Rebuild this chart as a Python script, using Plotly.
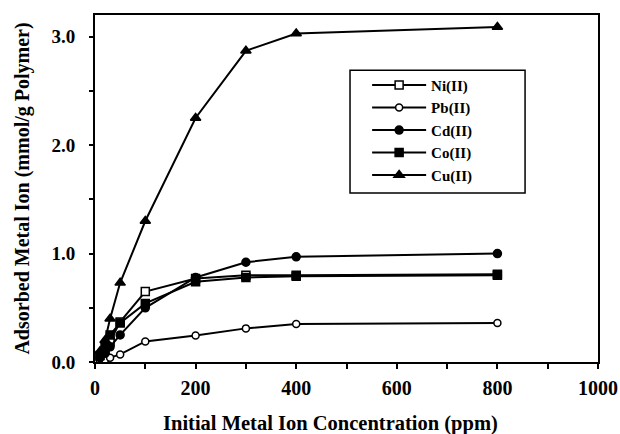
import plotly.graph_objects as go

# Initial metal ion concentration (ppm)
conc = [10, 20, 30, 50, 100, 200, 300, 400, 800]

# Adsorbed amount (mmol/g polymer) for each metal ion
ni = [0.05, 0.10, 0.19, 0.37, 0.65, 0.77, 0.80, 0.80, 0.81]
pb = [0.01, 0.02, 0.04, 0.07, 0.19, 0.245, 0.31, 0.35, 0.36]
cd = [0.04, 0.08, 0.14, 0.25, 0.50, 0.78, 0.92, 0.97, 1.00]
co = [0.06, 0.14, 0.25, 0.36, 0.54, 0.74, 0.78, 0.79, 0.80]
cu = [0.10, 0.20, 0.40, 0.73, 1.30, 2.25, 2.87, 3.03, 3.09]

names = ["Ni(II)", "Pb(II)", "Cd(II)", "Co(II)", "Cu(II)"]
series = [ni, pb, cd, co, cu]
symbols = ["square", "circle", "circle", "square", "triangle-up"]
fills = ["white", "white", "black", "black", "black"]
sizes = [8, 7, 8, 8, 9]

FONT = "Liberation Serif"

fig = go.Figure()
for name, vals, sym, fill, sz in zip(names, series, symbols, fills, sizes):
    fig.add_trace(go.Scatter(
        x=conc, y=vals, name=name, mode="lines+markers",
        line=dict(color="black", width=2),
        marker=dict(symbol=sym, size=sz, color=fill,
                    line=dict(color="black", width=1.5)),
    ))

# Frame drawn around the legend entries
fig.add_shape(type="rect", xref="paper", yref="paper",
              x0=0.507, x1=0.855, y0=0.487, y1=0.841,
              line=dict(color="black", width=1.5), fillcolor="rgba(0,0,0,0)",
              layer="above")

# x-axis title placed as a paper annotation below the tick labels
fig.add_annotation(
    text="Initial Metal Ion Concentration (ppm)",
    xref="paper", yref="paper", x=0.468, y=-0.176,
    xanchor="center", yanchor="middle", showarrow=False,
    font=dict(family=FONT, size=20.5, weight="bold", color="black"),
)

fig.update_layout(
    width=620, height=434,
    margin=dict(l=95, r=22, t=15, b=72),
    paper_bgcolor="white", plot_bgcolor="white",
    font=dict(family=FONT, color="black", size=14),
    showlegend=True,
    legend=dict(
        x=0.541, y=0.845, xanchor="left", yanchor="top",
        bgcolor="rgba(0,0,0,0)", borderwidth=0,
        font=dict(family=FONT, size=15, color="black", weight="bold"),
        tracegroupgap=0, itemwidth=54,
    ),
    xaxis=dict(
        range=[0, 1000], tickvals=[0, 200, 400, 600, 800, 1000],
        automargin=False, ticklabeloverflow="allow",
        ticks="outside", ticklen=5, tickwidth=1.5, tickcolor="black",
        minor=dict(dtick=100, ticks="outside", ticklen=5, tickwidth=1.5, tickcolor="black"),
        showline=True, linecolor="black", linewidth=2, mirror=True,
        showgrid=False, zeroline=False,
        tickfont=dict(family=FONT, size=20, weight="bold"),
        ticklabelstandoff=2,
    ),
    yaxis=dict(
        range=[0, 3.2], tickvals=[0, 1, 2, 3], ticktext=["0.0", "1.0", "2.0", "3.0"],
        automargin=False, ticklabeloverflow="allow",
        ticks="outside", ticklen=4, tickwidth=1.5, tickcolor="black",
        minor=dict(dtick=0.5, ticks="outside", ticklen=4, tickwidth=1.5, tickcolor="black"),
        showline=True, linecolor="black", linewidth=2, mirror=True,
        showgrid=False, zeroline=False,
        tickfont=dict(family=FONT, size=19, weight="bold"),
        ticklabelstandoff=10,
        title=dict(text="Adsorbed Metal Ion (mmol/g Polymer)",
                   font=dict(family=FONT, size=20, weight="bold"), standoff=16),
    ),
)

fig.write_html("out.html")
